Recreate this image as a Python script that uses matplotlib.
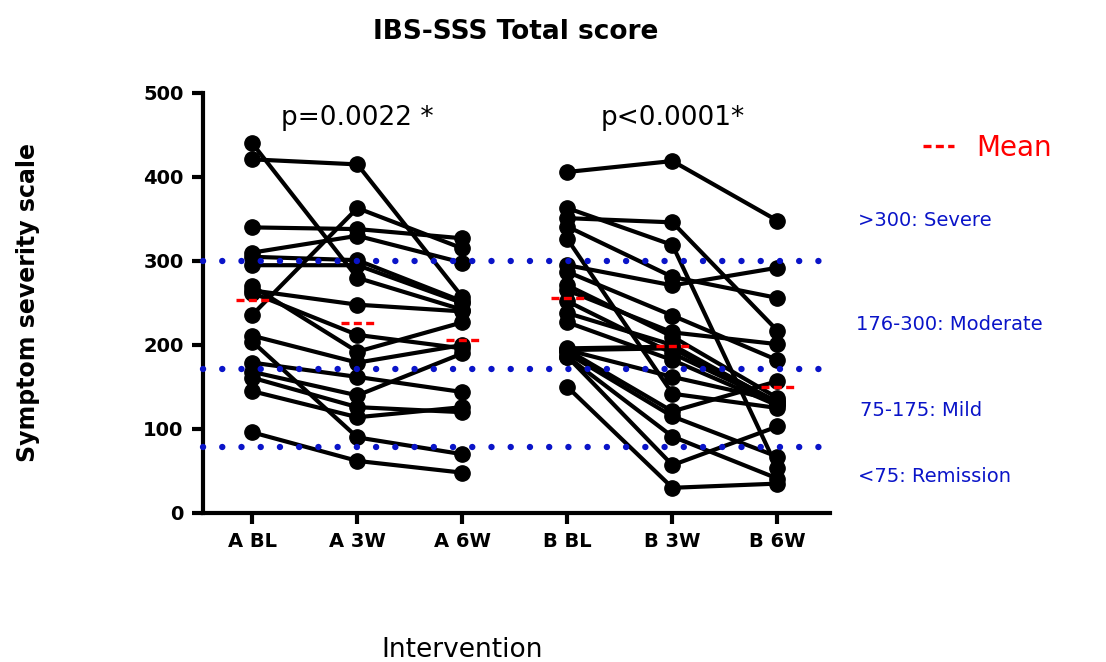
import matplotlib.pyplot as plt
import numpy as np
from matplotlib.lines import Line2D

plt.rcParams['font.family'] = ['DejaVu Sans']

groups = ['A BL', 'A 3W', 'A 6W', 'B BL', 'B 3W', 'B 6W']

# intervention A, one entry per subject
a_bl = [440, 421, 340, 310, 305, 295, 270, 265, 262, 236, 211, 204, 179, 168, 161, 145, 96]
a_3w = [280, 415, 338, 330, 301, 295, 192, 248, 212, 363, 179, 90, 162, 140, 126, 114, 62]
a_6w = [242, 257, 327, 298, 252, 250, 227, 240, 196, 315, 200, 70, 144, 190, 120, 126, 48]

# intervention B, one entry per subject
b_bl = [406, 363, 351, 341, 326, 295, 287, 271, 265, 252, 238, 227, 196, 194, 194, 194, 190, 186, 186, 150]
b_3w = [419, 319, 346, 281, 142, 271, 235, 210, 215, 190, 200, 182, 198, 162, 121, 196, 115, 91, 57, 30]
b_6w = [348, 53, 217, 256, 125, 292, 182, 137, 201, 131, 131, 128, 132, 134, 157, 130, 67, 41, 103, 35]

p_labels = ['p=0.0022 *', 'p<0.0001*']
cutoffs = [300, 171, 78]
severity = ['>300: Severe', '176-300: Moderate', '75-175: Mild', '<75: Remission']

blue = '#0a14c8'

fig = plt.figure(figsize=(11.06, 6.62), dpi=100)
ax = fig.add_axes([203 / 1106, 1 - 513 / 662, 627 / 1106, 420 / 662])

series = [(0, [a_bl, a_3w, a_6w]), (3, [b_bl, b_3w, b_6w])]
for x0, cols in series:
    xs = np.arange(x0, x0 + 3)
    for subj in zip(*cols):
        ax.plot(xs, subj, color='black', lw=3.0, marker='o', ms=11,
                solid_capstyle='round', zorder=3)
    for x, col in zip(xs, cols):
        m = np.mean(col)
        ax.plot([x - 0.16, x + 0.16], [m, m], color='red', lw=2.4,
                linestyle=(0, (2.4, 1.3)), zorder=6)

for c in cutoffs:
    ax.axhline(c, color=blue, lw=4.6, linestyle=(0, (0.01, 3.0)),
               dash_capstyle='round', zorder=5, clip_on=False)

ax.text(1, 470, p_labels[0], ha='center', va='center', fontsize=19)
ax.text(4, 470, p_labels[1], ha='center', va='center', fontsize=19)

ax.set_xlim(-0.47, 5.5)
ax.set_ylim(0, 500)
ax.set_yticks(np.arange(0, 501, 100))
ax.set_xticks(range(len(groups)))
ax.set_xticklabels(groups, fontweight='bold', fontsize=14)
for lab in ax.get_yticklabels():
    lab.set_fontweight('bold')
    lab.set_fontsize(14)
ax.spines['top'].set_visible(False)
ax.spines['right'].set_visible(False)
ax.spines['left'].set_linewidth(3)
ax.spines['bottom'].set_linewidth(3)
ax.tick_params(axis='both', width=3, length=8, direction='out', pad=6)

fig.text(516 / 1106, 1 - 32 / 662, 'IBS-SSS Total score', ha='center',
         va='center', fontsize=19, fontweight='bold')
fig.text(28 / 1106, 1 - 303 / 662, 'Symptom severity scale', rotation=90,
         ha='center', va='center', fontsize=17, fontweight='bold')
fig.text(462 / 1106, 1 - 650 / 662, 'Intervention', ha='center',
         va='center', fontsize=19)

ys = [220, 325, 410, 477]
xs_txt = [858, 856, 860, 858]
for lab, yy, xx in zip(severity, ys, xs_txt):
    fig.text(xx / 1106, 1 - yy / 662, lab, color=blue, fontsize=14,
             ha='left', va='center')

handle = Line2D([], [], color='red', lw=2.4, linestyle=(0, (2.4, 1.3)))
fig.legend([handle], ['Mean'], loc='center left',
           bbox_to_anchor=(898 / 1106, 1 - 148 / 662), frameon=False,
           fontsize=20, labelcolor='red', handlelength=1.1, handletextpad=0.8)

fig.savefig('out.png', dpi=100)
